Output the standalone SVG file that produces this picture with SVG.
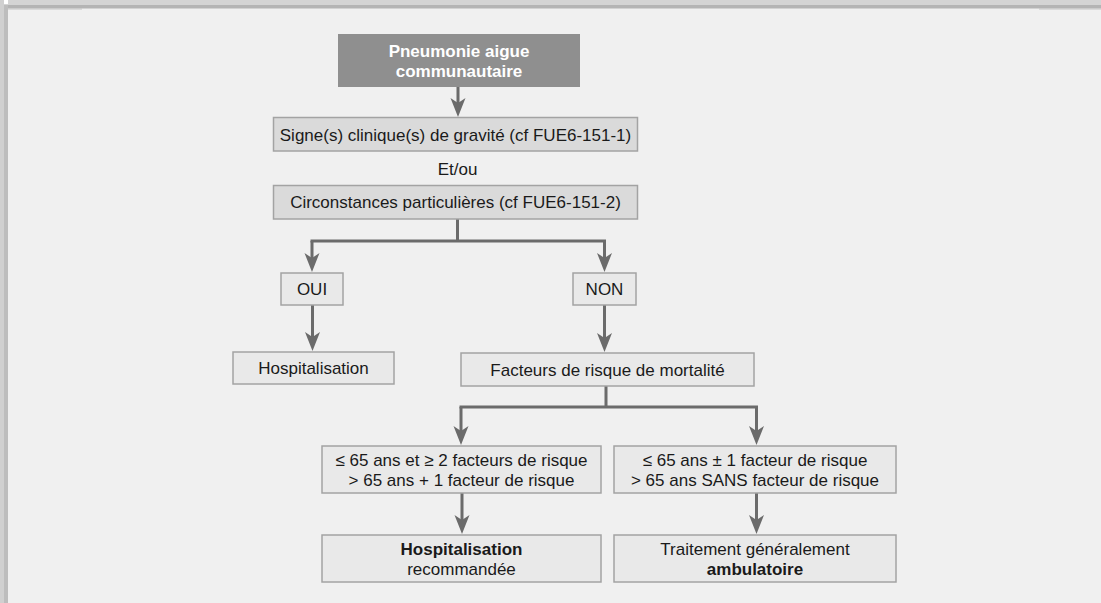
<svg xmlns="http://www.w3.org/2000/svg" width="1101" height="603" viewBox="0 0 1101 603">
<style>
.box{fill:#e9e9e9;stroke:#a3a3a3;stroke-width:1.5}
.box2{fill:#dadada;stroke:#a3a3a3;stroke-width:1.5}
.t{font-family:"Liberation Sans",Arial,sans-serif;font-size:17px;fill:#1a1a1a;text-anchor:middle}
.b{font-weight:bold}
.w{fill:#ffffff;font-weight:bold}
.ln{fill:none;stroke:#6b6b6b;stroke-width:3;stroke-linecap:square}
.ar{fill:none;stroke:#6b6b6b;stroke-width:3;marker-end:url(#ah)}
</style>
<defs>
<marker id="ah" viewBox="-8 -9 22 18" refX="0" refY="0" markerWidth="22" markerHeight="18" markerUnits="userSpaceOnUse" orient="auto" overflow="visible">
<path d="M-7,-7.5 L12,0 L-7,7.5 L-2,0 Z" fill="#6b6b6b"/>
</marker>
</defs>
<rect x="0" y="0" width="1101" height="603" fill="#f0f0f0"/>
<rect x="0" y="0" width="1101" height="5" fill="#d4d4d4"/>
<rect x="0" y="5" width="1101" height="3.5" fill="#b4b4b4"/>
<rect x="0" y="0" width="4" height="603" fill="#d0d0d0"/>
<rect x="4" y="5" width="4" height="598" fill="#bdbdbd"/>
<rect x="4" y="0" width="4" height="4" fill="#ffffff"/>
<line x1="8" y1="9" x2="82" y2="9" stroke="#c4c4c4" stroke-width="1"/>
<line x1="1039" y1="9" x2="1101" y2="9" stroke="#c4c4c4" stroke-width="1"/>

<g id="connectors">
<path class="ar" d="M458,87 V105"/>
<path class="ln" d="M457.5,219 V241 M312,241 H604.5"/>
<path class="ar" d="M312,241 V260"/>
<path class="ar" d="M604.5,241 V260"/>
<path class="ar" d="M312.5,305 V339"/>
<path class="ar" d="M604.5,305 V340"/>
<path class="ln" d="M606,386 V407 M461,407 H756.5"/>
<path class="ar" d="M461,407 V433"/>
<path class="ar" d="M756.5,407 V433"/>
<path class="ar" d="M462,493 V522"/>
<path class="ar" d="M756.5,493 V522"/>
</g>

<g id="pneumonie">
<rect x="338" y="34" width="242" height="53" fill="#8f8f8f"/>
<text class="t w" x="459" y="56.5">Pneumonie aigue</text>
<text class="t w" x="459" y="76.5">communautaire</text>
</g>
<g id="signes">
<rect class="box2" x="273.5" y="117.5" width="364" height="33.5"/>
<text class="t" x="455.5" y="140.5">Signe(s) clinique(s) de gravité (cf FUE6-151-1)</text>
</g>
<text class="t" x="457.5" y="175">Et/ou</text>
<g id="circonstances">
<rect class="box2" x="273.5" y="185.5" width="364" height="33.5"/>
<text class="t" x="455.5" y="208">Circonstances particulières (cf FUE6-151-2)</text>
</g>
<g id="oui">
<rect class="box" x="281" y="273" width="62" height="32"/>
<text class="t" x="312" y="295">OUI</text>
</g>
<g id="non">
<rect class="box" x="573" y="273" width="63" height="32"/>
<text class="t" x="604.5" y="295">NON</text>
</g>
<g id="hospitalisation">
<rect class="box" x="233" y="352" width="161" height="32"/>
<text class="t" x="313.5" y="374">Hospitalisation</text>
</g>
<g id="facteurs">
<rect class="box" x="461" y="353" width="293" height="33"/>
<text class="t" x="607.5" y="375.5">Facteurs de risque de mortalité</text>
</g>
<g id="haut-risque">
<rect class="box" x="322" y="446" width="279" height="47"/>
<text class="t" x="461.5" y="465.5">≤ 65 ans et ≥ 2 facteurs de risque</text>
<text class="t" x="461.5" y="485.5">&gt; 65 ans + 1 facteur de risque</text>
</g>
<g id="bas-risque">
<rect class="box" x="614" y="446" width="282" height="47"/>
<text class="t" x="755" y="465.5">≤ 65 ans ± 1 facteur de risque</text>
<text class="t" x="755" y="485.5">&gt; 65 ans SANS facteur de risque</text>
</g>
<g id="hospitalisation-recommandee">
<rect class="box" x="322" y="535" width="279" height="47"/>
<text class="t b" x="461.5" y="554.5">Hospitalisation</text>
<text class="t" x="461.5" y="574.5">recommandée</text>
</g>
<g id="ambulatoire">
<rect class="box" x="614" y="535" width="282" height="47"/>
<text class="t" x="755" y="554.5">Traitement généralement</text>
<text class="t b" x="755" y="574.5">ambulatoire</text>
</g>
</svg>
